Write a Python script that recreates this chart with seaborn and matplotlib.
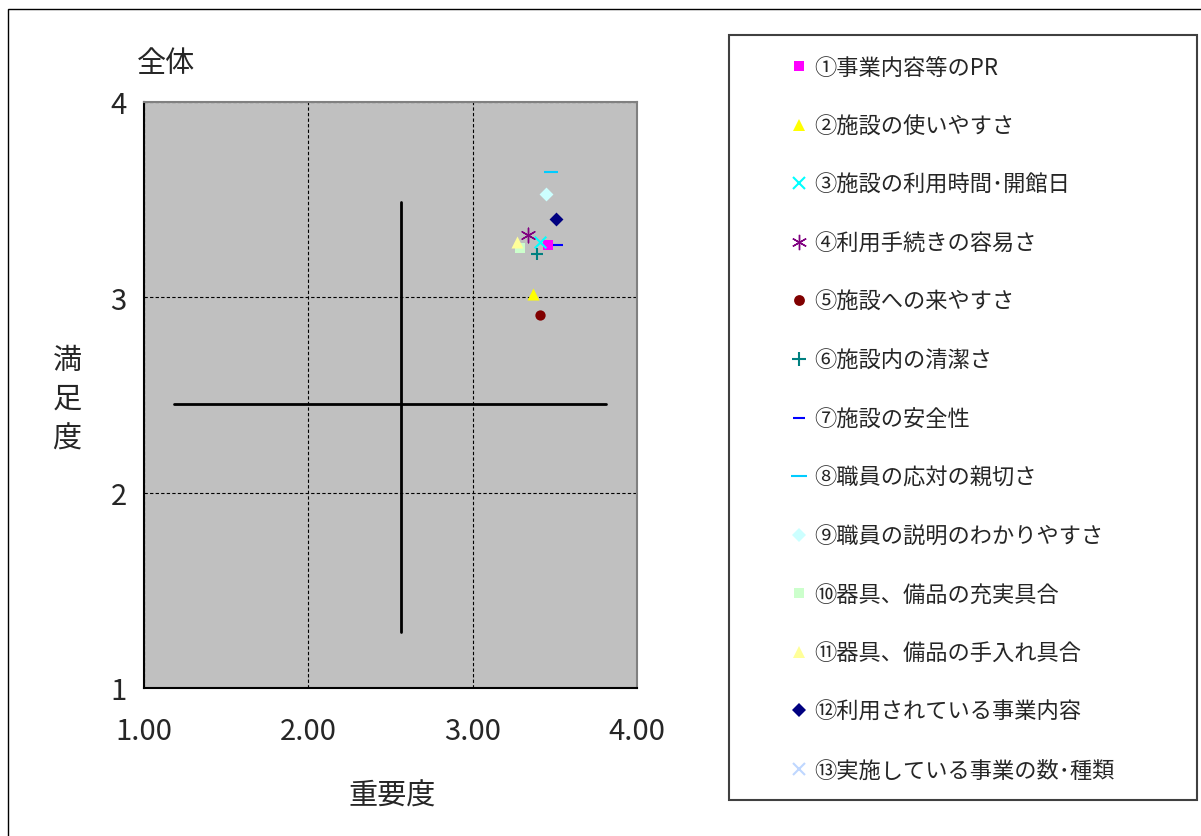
import numpy as np
import matplotlib
matplotlib.use("Agg")
import matplotlib.pyplot as plt
from matplotlib.lines import Line2D
from matplotlib.patches import Rectangle
import seaborn as sns

# data
labels = ['①事業内容等のPR', '②施設の使いやすさ', '③施設の利用時間･開館日',
          '④利用手続きの容易さ', '⑤施設への来やすさ', '⑥施設内の清潔さ',
          '⑦施設の安全性', '⑧職員の応対の親切さ', '⑨職員の説明のわかりやすさ',
          '⑩器具、備品の充実具合', '⑪器具、備品の手入れ具合', '⑫利用されている事業内容',
          '⑬実施している事業の数･種類']
importance = [3.46, 3.37, 3.41, 3.34, 3.41, 3.39, 3.52, 3.48, 3.445, 3.29, 3.27, 3.51, np.nan]
satisfaction = [3.27, 3.015, 3.285, 3.32, 2.91, 3.22, 3.27, 3.64, 3.53, 3.255, 3.285, 3.40, np.nan]

# crosshair lines
hline_x = [1.185, 3.81]
hline_y = [2.454, 2.454]
vline_x = [2.565, 2.565]
vline_y = [1.286, 3.49]

markers = ['s', '^', 'x', (6, 2, 0), 'o', '+', '_', '_', 'D', 's', '^', 'D', 'x']
colors = ['#FF00FF', '#FFFF00', '#00FFFF', '#800080', '#800000', '#008080', '#0000FF',
          '#00CCFF', '#CCFFFF', '#CCFFCC', '#FFFF99', '#000080', '#BFD7FF']
sizes = [55, 75, 70, 110, 55, 80, 60, 110, 50, 55, 75, 50, 70]

sns.set_style("white")
plt.rcParams['font.family'] = ['Noto Sans CJK JP', 'DejaVu Sans']

fig = plt.figure(figsize=(12.01, 8.37), dpi=100)
ax = fig.add_axes([143.5 / 1201, 1 - 689 / 837, (637 - 143.5) / 1201, (689 - 103) / 837])
ax.set_facecolor('#C0C0C0')

sns.lineplot(x=hline_x, y=hline_y, color='black', linewidth=2, ax=ax, zorder=2,
             estimator=None)
sns.lineplot(x=vline_x, y=vline_y, color='black', linewidth=2, ax=ax, zorder=2,
             estimator=None, sort=False)

handles = []
for i in range(len(labels)):
    m = markers[i]
    lined = m in ('x', '+', '_', (6, 2, 0))
    lw = 1.0 if m == (6, 2, 0) else 1.5
    if not np.isnan(importance[i]):
        sns.scatterplot(x=[importance[i]], y=[satisfaction[i]], marker=m, s=sizes[i],
                        color=colors[i], linewidth=lw if lined else 0, ax=ax, zorder=3)
    handles.append(Line2D([], [], linestyle='none', marker=m, color=colors[i],
                          markersize=np.sqrt(sizes[i]) * 1.05,
                          markeredgewidth=lw if lined else 0))

ax.set_xlim(1, 4)
ax.set_ylim(1, 4)
ax.set_xticks([1, 2, 3, 4])
ax.set_xticklabels(['1.00', '2.00', '3.00', '4.00'])
ax.set_yticks([1, 2, 3, 4])
ax.set_yticklabels(['1', '2', '3', '4'])
ax.tick_params(axis='x', length=0, pad=20, labelsize=21)
ax.tick_params(axis='y', length=0, pad=12, labelsize=21)
ax.grid(True, color='black', linestyle=(0, (3, 2)), linewidth=0.8)
ax.set_axisbelow(True)
for side in ['left', 'bottom']:
    ax.spines[side].set_color('black')
    ax.spines[side].set_linewidth(1.5)
for side in ['top', 'right']:
    ax.spines[side].set_color('#808080')
    ax.spines[side].set_linewidth(1.5)
ax.set_xlabel('')
ax.set_ylabel('')

fig.text(137 / 1201, 1 - 64 / 837, '全体', fontsize=21, va='center', ha='left')
fig.text(392 / 1201, 1 - 797 / 837, '重要度', fontsize=21, va='center', ha='center')
fig.text(67 / 1201, 1 - 400 / 837, '満\n足\n度', fontsize=21, va='center', ha='center',
         linespacing=1.4)

# outer border and legend box
fig.patches.append(Rectangle((8 / 1201, -0.01), 1.1, 1 - 10 / 837 + 0.01, fill=False,
                             edgecolor='black', linewidth=1, transform=fig.transFigure))
fig.patches.append(Rectangle((729 / 1201, 1 - 801 / 837), (1197 - 729) / 1201, (801 - 36) / 837,
                             fill=False, edgecolor='#404040', linewidth=1.5,
                             transform=fig.transFigure))

fig.legend(handles, labels, loc='upper left', bbox_to_anchor=(790 / 1201, 1 - 57 / 837),
           frameon=False, fontsize=16, labelspacing=1.6, handlelength=0.8,
           handletextpad=0.3, borderpad=0, borderaxespad=0)

fig.savefig('out.png', dpi=100)
